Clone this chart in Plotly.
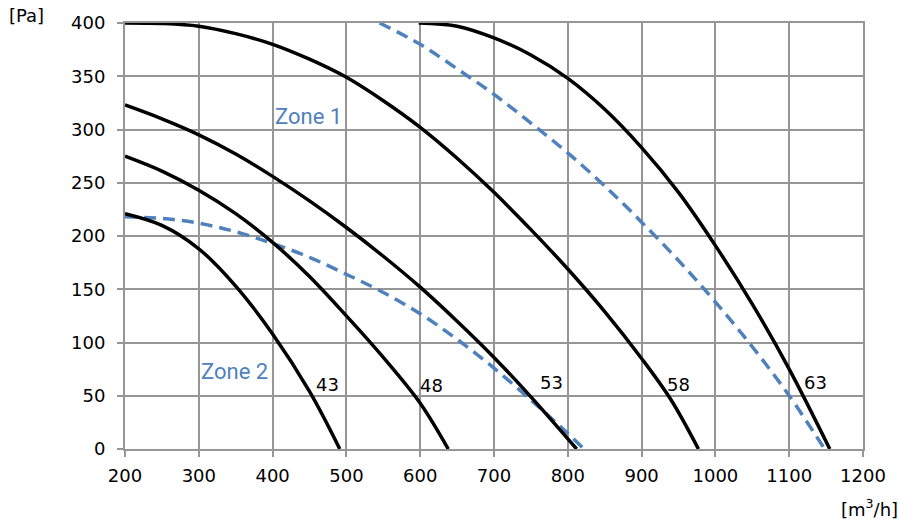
import plotly.graph_objects as go

# ---- data (airflow m3/h, pressure Pa) ----
c43_x = [200, 250, 300, 350, 400, 450, 491]
c43_y = [221, 210, 188, 153, 108, 54, 0]

c48_x = [200, 250, 300, 350, 400, 450, 500, 550, 600, 638]
c48_y = [275, 261, 243, 221, 194, 162, 125, 86, 43, 0]

c53_x = [200, 250, 300, 350, 400, 450, 500, 550, 600, 650, 700, 750, 812]
c53_y = [323, 310, 295, 277, 256, 233, 208, 181, 152, 120, 86, 49, 0]

c58_x = [200, 250, 300, 350, 400, 450, 500, 550, 600, 650, 700, 750, 800, 850, 900, 940, 977]
c58_y = [400, 399.5, 397, 390, 380, 366, 349, 327, 302, 273, 241, 206, 169, 129, 85, 46, 0]

c63_x = [598, 650, 700, 750, 800, 850, 900, 950, 1000, 1050, 1100, 1155]
c63_y = [400, 397, 386, 370, 348, 319, 283, 241, 191, 136, 75, 0]

zone1_x = [545, 600, 650, 700, 750, 800, 850, 900, 950, 1000, 1050, 1100, 1148]
zone1_y = [400, 380, 357, 333, 306, 278, 247, 213, 177, 138, 96, 50, 0]

zone2_x = [200, 250, 300, 350, 400, 450, 500, 550, 600, 650, 700, 750, 790, 822]
zone2_y = [218, 216.5, 212, 204, 193, 180, 164, 147, 127, 103, 76, 46, 21, 0]

curve_names = ["43", "48", "53", "58", "63"]
x_ticks = [200, 300, 400, 500, 600, 700, 800, 900, 1000, 1100, 1200]
y_ticks = [0, 50, 100, 150, 200, 250, 300, 350, 400]

BLACK = "#000000"
BLUE = "#4F81BD"
GRID = "#969696"

fig = go.Figure()

for xs, ys in [(zone2_x, zone2_y), (zone1_x, zone1_y)]:
    fig.add_trace(go.Scatter(x=xs, y=ys, mode="lines",
                             line=dict(color=BLUE, width=3.5, dash="12px,7px", shape="spline", smoothing=1.0),
                             showlegend=False, hoverinfo="skip"))

for xs, ys in [(c43_x, c43_y), (c48_x, c48_y), (c53_x, c53_y), (c58_x, c58_y), (c63_x, c63_y)]:
    fig.add_trace(go.Scatter(x=xs, y=ys, mode="lines",
                             line=dict(color=BLACK, width=3.5, shape="spline", smoothing=1.0),
                             showlegend=False, hoverinfo="skip"))

label_pos = [(474, 61), (615, 60), (778, 62), (950, 61), (1136, 62)]
for name, (lx, ly) in zip(curve_names, label_pos):
    fig.add_annotation(x=lx, y=ly, text=name, showarrow=False,
                       font=dict(family="DejaVu Sans", size=18, color="#000000"),
                       xanchor="center", yanchor="middle")

zone_font = dict(family="Roboto, sans-serif", size=22, color=BLUE)
fig.add_annotation(x=449, y=312, text="Zone 1", showarrow=False, font=zone_font,
                   xanchor="center", yanchor="middle")
fig.add_annotation(x=349, y=73, text="Zone 2", showarrow=False, font=zone_font,
                   xanchor="center", yanchor="middle")

fig.add_annotation(xref="paper", yref="paper", x=-0.16, y=1.047, text="[Pa]", showarrow=False,
                   font=dict(family="DejaVu Sans", size=18, color="#000000"),
                   xanchor="left", yanchor="top")
fig.add_annotation(xref="paper", yref="paper", x=1.05, y=-0.105, text="[m<sup>3</sup>/h]",
                   showarrow=False, font=dict(family="DejaVu Sans", size=18, color="#000000"),
                   xanchor="right", yanchor="top")

axis_common = dict(showgrid=True, gridcolor=GRID, gridwidth=2,
                   showline=True, linecolor=GRID, linewidth=2,
                   ticks="outside", ticklen=6, tickwidth=2, tickcolor=GRID,
                   zeroline=False,
                   tickfont=dict(family="DejaVu Sans", size=18, color="#000000"))

fig.update_xaxes(range=[200, 1200], tickvals=x_ticks, ticktext=[str(v) for v in x_ticks],
                 mirror=True, ticklabelstandoff=3, **axis_common)
fig.update_yaxes(range=[0, 400], tickvals=y_ticks, ticktext=[str(v) for v in y_ticks],
                 mirror=True, ticklabelstandoff=8, **axis_common)

fig.update_layout(width=898, height=524,
                  margin=dict(l=125, r=33, t=22, b=75),
                  paper_bgcolor="white", plot_bgcolor="white")

fig.write_html("out.html")
